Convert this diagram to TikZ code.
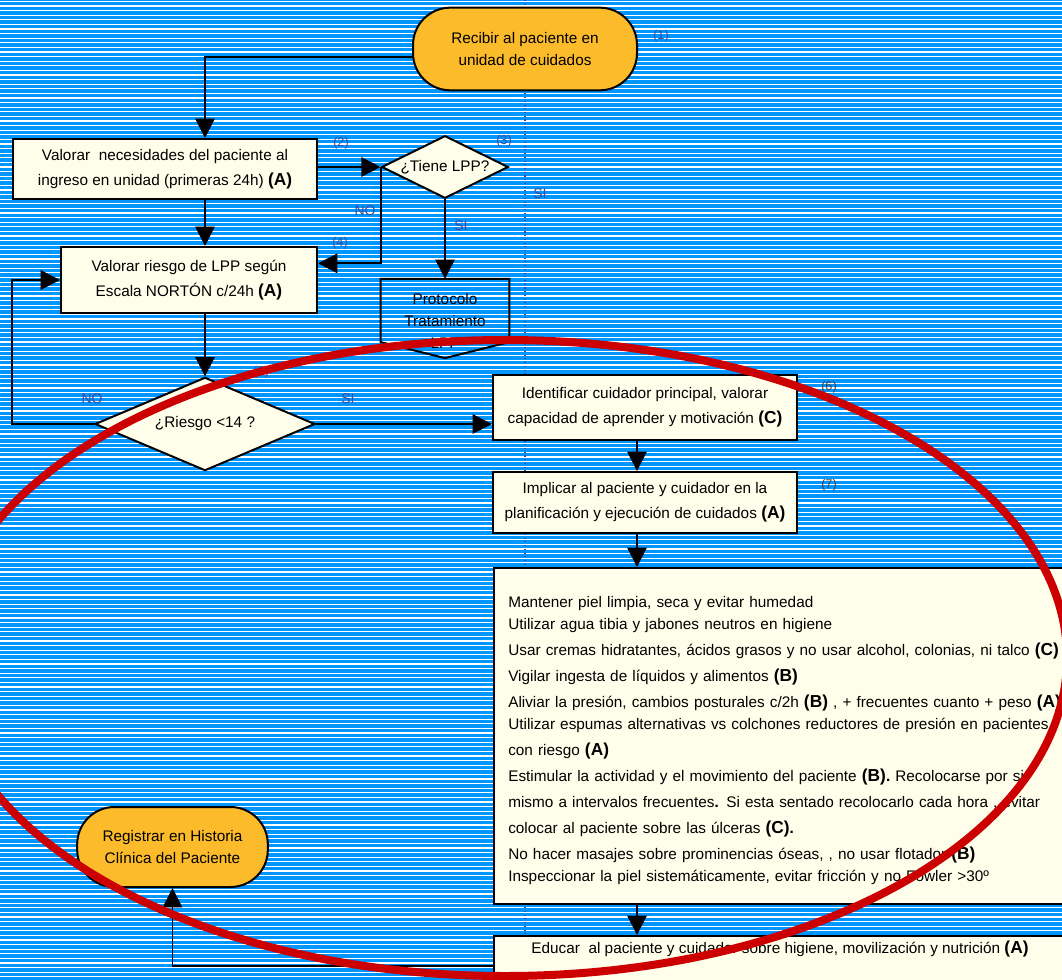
\documentclass[tikz,border=0pt]{standalone}
\usepackage{fontspec}
\setmainfont{Liberation Sans}
\usetikzlibrary{shapes.geometric, arrows.meta, positioning, calc}
\definecolor{fondoazul}{RGB}{0,150,255}
\definecolor{crema}{RGB}{255,254,234}
\definecolor{naranja}{RGB}{252,187,42}
\definecolor{rotulo}{RGB}{70,70,140}
\definecolor{rojoelipse}{RGB}{204,0,0}
\newcommand{\nivel}[1]{{\fontsize{13}{13}\selectfont\bfseries (#1)}}

\begin{document}
\begin{tikzpicture}[
    x=0.75pt, y=-0.75pt,
    font=\fontsize{11.5}{18.5}\selectfont,
    caja/.style={rectangle, draw, line width=1.5pt, fill=crema, align=center, inner sep=2pt},
    terminal/.style={rectangle, draw, line width=1.5pt, fill=naranja, rounded corners=28pt, align=center, font=\fontsize{11.5}{17}\selectfont},
    decision/.style={diamond, draw, line width=1.5pt, fill=crema, align=center, inner sep=0pt},
    arrow/.style={-{Triangle[length=14.5pt, width=14.5pt]}, line width=1.4pt},
    num/.style={font=\fontsize{9.5}{10}\selectfont, text=rotulo},
    rama/.style={font=\fontsize{10.5}{12}\selectfont, text=rotulo},
]

% fondo rayado
\useasboundingbox (0,0) rectangle (1062,980);
\clip (0,0) rectangle (1062,980);
\fill[fondoazul] (0,0) rectangle (1062,980);
\foreach \i in {0,...,213}
    \draw[white, line width=0.9pt] (0,\i*4.6+1.5) -- (1062,\i*4.6+1.5);
\draw[rotulo, dotted, line width=0.8pt] (525,0) -- (525,980);

% nodos
\node[terminal, minimum width=168pt, minimum height=62pt] (recibir) at (525,49) {Recibir al paciente en\\unidad de cuidados};
\node[caja, minimum width=228pt, minimum height=45pt] (valnec) at (165,169) {Valorar\ \ necesidades del paciente al\\ingreso en unidad (primeras 24h) \nivel{A}};
\node[decision, aspect=2, minimum width=95pt, minimum height=47pt] (tiene) at (445,167) {¿Tiene LPP?};
\node[caja, minimum width=192pt, minimum height=49.5pt] (valriesgo) at (189,280) {Valorar riesgo de LPP según\\Escala NORTÓN c/24h \nivel{A}};
\node[minimum width=96pt, minimum height=47pt, inner sep=0pt] (prot) at (445,310.5) {};
\node[font=\fontsize{11.5}{16.5}\selectfont, align=center] (prottxt) at (445,321) {Protocolo\\Tratamiento\\LPP};
\node[decision, aspect=2.3, minimum width=165pt, minimum height=70pt] (riesgo) at (205,424) {¿Riesgo <14 ?};
\node[caja, minimum width=228pt, minimum height=48.75pt] (ident) at (645,407.5) {Identificar cuidador principal, valorar\\capacidad de aprender y motivación \nivel{C}};
\node[caja, minimum width=228pt, minimum height=45.75pt] (implic) at (645,502.5) {Implicar al paciente y cuidador en la\\planificación y ejecución de cuidados \nivel{A}};
\node[caja, minimum width=442pt, minimum height=252pt, anchor=north west] (cuidados) at (493,567) {};
\node[anchor=north west, align=left, text width=470pt, inner sep=0pt, font=\fontsize{11.5}{19.5}\selectfont] (medidas) at (508,596) {%
Mantener piel limpia, seca y evitar humedad\\[-3pt]
Utilizar agua tibia y jabones neutros en higiene\\
Usar cremas hidratantes, ácidos grasos y no usar alcohol, colonias, ni talco \nivel{C}\\
Vigilar ingesta de líquidos y alimentos \nivel{B}\\
Aliviar la presión, cambios posturales c/2h \nivel{B} , + frecuentes cuanto + peso \nivel{A}\\[-3pt]
Utilizar espumas alternativas vs colchones reductores de presión en pacientes\\
con riesgo \nivel{A}\\
Estimular la actividad y el movimiento del paciente \nivel{B}\textbf{.} Recolocarse por si\\
mismo a intervalos frecuentes\textbf{.} Si esta sentado recolocarlo cada hora , evitar\\
colocar al paciente sobre las úlceras \nivel{C}\textbf{.}\\
No hacer masajes sobre prominencias óseas, , no usar flotador \nivel{B}\\[-3pt]
Inspeccionar la piel sistemáticamente, evitar fricción y no Fowler >30º};
\node[caja, minimum width=442pt, minimum height=45pt, anchor=north west] (educar) at (493,935) {};
\node[anchor=base] (educartxt) at (780,953) {Educar\ \ al paciente y cuidador sobre higiene, movilización y nutrición \nivel{A}};
\node[terminal, minimum width=143pt, minimum height=60pt] (registrar) at (172.5,847) {Registrar en Historia\\Clínica del Paciente};

% documento del protocolo
\draw[line width=1.5pt] (prot.north west) -- (prot.north east) -- (prot.south east) -- ($(prot.south)+(0,16)$) -- (prot.south west) -- cycle;

% numeros y ramas
\node[num] (n1) at (661,36) {(1)};
\node[num] (n2) at (341,143) {(2)};
\node[num] (n3) at (504,141) {(3)};
\node[num] (n4) at (340,243) {(4)};
\node[num] (n5) at (261,372) {(5)};
\node[num, text=black!75] (n6) at (829,387) {(6)};
\node[num, text=black!75] (n7) at (829,485) {(7)};
\node[rama] (no1) at (365,211) {NO};
\node[rama] (si1) at (461,226) {SI};
\node[rama] (si2) at (540,194) {SI};
\node[rama] (no2) at (92,399) {NO};
\node[rama] (si3) at (348,399) {SI};

% conectores
\coordinate (colA) at (205,0);
\coordinate (colB) at (637,0);
\draw[arrow] ([yshift=-6pt]recibir.west) -| (valnec.north -| colA);
\draw[arrow] (valnec.east |- tiene.west) -- (tiene.west);
\draw[arrow] (tiene.west) |- ([yshift=12.5pt]valriesgo.east);
\draw[arrow] (tiene.south) -- (prot.north);
\draw[arrow] (valnec.south -| colA) -- (valriesgo.north -| colA);
\draw[arrow] (valriesgo.south -| colA) -- (riesgo.north);
\draw[arrow] (riesgo.west) -- ++(-82,0) |- (valriesgo.west);
\draw[arrow] (riesgo.east) -- (riesgo.east -| ident.west);
\draw[arrow] (ident.south -| colB) -- (implic.north -| colB);
\draw[arrow] (implic.south -| colB) -- (cuidados.north -| colB);
\draw[arrow] (cuidados.south -| colB) -- (educar.north -| colB);
\draw[arrow] (educar.west) -| (registrar.south);

% elipse roja
\draw[rojoelipse, line width=6pt] (505,658) ellipse [x radius=562, y radius=318];

\end{tikzpicture}
\end{document}
